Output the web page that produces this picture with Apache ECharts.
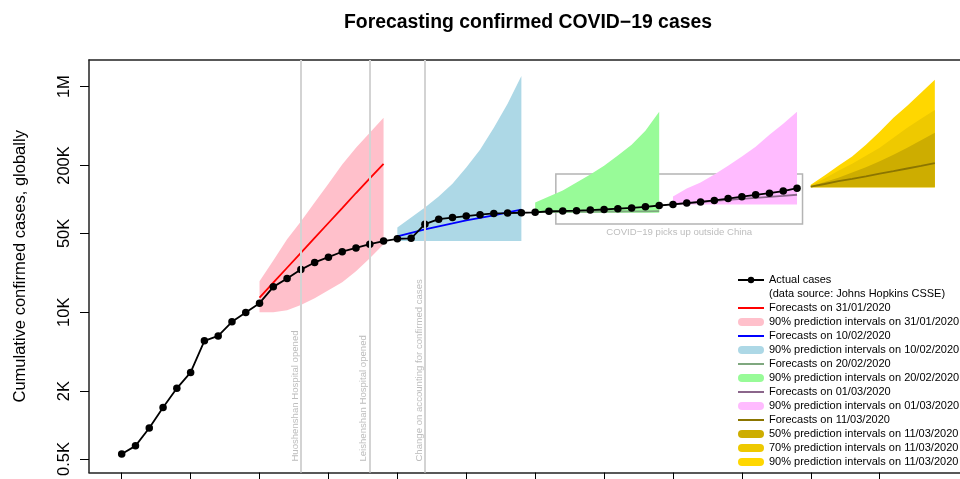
<!DOCTYPE html>
<html><head><meta charset="utf-8">
<script src="https://cdn.jsdelivr.net/npm/echarts@6/dist/echarts.min.js"></script>
<style>html,body{margin:0;padding:0;background:#fff}#c{width:960px;height:479px}</style>
</head><body><div id="c"></div>
<script>
// ---- data (x = days since 22/01/2020, y = cumulative confirmed cases) ----
const actualDays = [0,1,2,3,4,5,6,7,8,9,10,11,12,13,14,15,16,17,18,19,20,21,22,23,24,25,26,27,28,29,30,31,32,33,34,35,36,37,38,39,40,41,42,43,44,45,46,47,48,49];
const actualCases = [555,654,941,1434,2118,2927,5578,6166,8234,9927,
  12038,16787,19881,23892,27635,30794,34391,37120,40150,42762,
  44802,45221,60368,66885,69030,71224,73258,75136,75639,76197,
  76819,78572,78958,79561,80406,81388,82746,84112,86011,88369,
  90306,92840,95120,97886,101801,105847,109821,113590,118620,125875];

const days0131 = [10,11,12,13,14,15,16,17,18,19];
const fc0131 = [13500,18300,24800,33600,45600,61800,83800,114000,154000,207000];
const lo0131 = [10000,10000,10400,11600,13300,15700,18400,23100,30100,40000];
const hi0131 = [18800,28800,44300,63800,94000,138000,204000,287000,390000,530000];

const days1002 = [20,21,22,23,24,25,26,27,28,29];
const fc1002 = [47000,50500,54200,57600,61200,65100,68500,72100,76600,81400];
const lo1002 = [42800,42800,42800,42800,42800,42800,42800,42800,42800,42800];
const hi1002 = [56500,69200,84900,106000,138000,192000,276000,432000,705000,1240000];

const days2002 = [30,31,32,33,34,35,36,37,38,39];
const fc2002 = [77100,77300,77500,77600,77800,78000,78200,78300,78500,78700];
const lo2002 = [76200,76200,76200,76200,76200,76200,76200,76200,76200,76200];
const hi2002 = [94000,106000,120000,141000,166000,199000,245000,306000,407000,598000];

const days0103 = [40,41,42,43,44,45,46,47,48,49];
const fc0103 = [91000,92900,94900,96900,99000,101000,103200,105400,107600,110000];
const lo0103 = [90300,90300,90300,90300,90300,90300,90300,90300,90300,90300];
const hi0103 = [106000,125000,141000,166000,199000,240000,293000,374000,468000,598000];

const days1103 = [50,51,52,53,54,55,56,57,58,59];
const fc1103 = [130000,137000,145000,152000,160000,169000,178000,188000,198000,210000];
const lo1103 = [128000,128000,128000,128000,128000,128000,128000,128000,128000,128000];
const hi1103_50 = [130000,142500,156000,173000,193000,218000,249000,287000,335000,390000];
const hi1103_70 = [133000,153000,180000,207000,244000,287000,352000,432000,519000,622000];
const hi1103_90 = [135000,163000,199000,240000,306000,398000,530000,676000,881000,1150000];

const yTickCases = [500,2000,10000,50000,200000,1000000];
const yTickLabels = ['0.5K','2K','10K','50K','200K','1M'];
const xTickDays = [0,5,10,15,20,25,30,35,40,45,50,55];

const eventDays = [13,18,22];
const eventLabels = ['Huoshenshan Hospital opened','Leishenshan Hospital opened','Change on accounting for confirmed cases'];
const boxDays = [31.5,49.4];
const boxCases = [60500,168000];
const boxLabel = 'COVID\u221219 picks up outside China';

// ---- chart ----
const FONT = 'Liberation Sans';
const L = Math.log10;
const pairs = (d, v) => d.map((x, i) => [x, L(v[i])]);
const X_MIN = -2.373, X_MAX = 60.826;

function bandSeries(name, days, lower, upper, color) {
  return {
    type: 'custom', name, z: 1, silent: true, animation: false,
    itemStyle: { color },
    data: days.map((d, i) => [d, L(lower[i]), L(upper[i])]),
    encode: { x: 0, y: [1, 2] },
    renderItem(params, api) {
      if (params.dataIndex !== 0) return null;
      const pts = [];
      for (let i = 0; i < days.length; i++) pts.push(api.coord([days[i], L(upper[i])]));
      for (let i = days.length - 1; i >= 0; i--) pts.push(api.coord([days[i], L(lower[i])]));
      return { type: 'polygon', shape: { points: pts }, style: { fill: color } };
    }
  };
}
function fcSeries(name, days, vals, color) {
  return {
    type: 'line', name, z: 3, symbol: 'none', silent: true,
    lineStyle: { color, width: 1.8 }, itemStyle: { color },
    data: pairs(days, vals)
  };
}

const C = {
  pink: '#FFC0CB', red: '#FF0000', lblue: '#ADD8E6', blue: '#0000FF',
  pgreen: '#98FB98', green: '#7FA87F', plum: '#FFBBFF', purple: '#8B668B',
  gold: '#FFD700', gold2: '#EEC900', gold3: '#CDAD00', gold4: '#8B7500'
};

const N = {
  act: 'Actual cases', src: '(data source: Johns Hopkins CSSE)',
  f1: 'Forecasts on 31/01/2020', p1: '90% prediction intervals on 31/01/2020',
  f2: 'Forecasts on 10/02/2020', p2: '90% prediction intervals on 10/02/2020',
  f3: 'Forecasts on 20/02/2020', p3: '90% prediction intervals on 20/02/2020',
  f4: 'Forecasts on 01/03/2020', p4: '90% prediction intervals on 01/03/2020',
  f5: 'Forecasts on 11/03/2020',
  p50: '50% prediction intervals on 11/03/2020',
  p70: '70% prediction intervals on 11/03/2020',
  p90: '90% prediction intervals on 11/03/2020'
};
const capsule = 'path://M4,0L22,0A4,4,0,0,1,22,8L4,8A4,4,0,0,1,4,0Z';
const noDot = { itemStyle: { opacity: 0 } };
const AXIS_LINE = { show: true, onZero: false, lineStyle: { color: '#222', width: 1.5 } };

const chart = echarts.init(document.getElementById('c'), null, { renderer: 'canvas' });
chart.setOption({
  animation: false,
  backgroundColor: '#fff',
  title: {
    text: 'Forecasting confirmed COVID\u221219 cases',
    left: 523, top: 8, textAlign: 'center',
    textStyle: { fontFamily: FONT, fontSize: 19.4, fontWeight: 'bold', color: '#000' }
  },
  grid: { left: 89, top: 60, width: 871, height: 414, show: false },
  xAxis: [{
    type: 'value', min: X_MIN, max: X_MAX, position: 'bottom',
    axisLine: AXIS_LINE,
    axisTick: { show: true, customValues: xTickDays, length: 8, lineStyle: { color: '#000', width: 1 } },
    axisLabel: { show: false },
    splitLine: { show: false }
  }, {
    type: 'value', min: X_MIN, max: X_MAX, position: 'top',
    axisLine: AXIS_LINE, axisTick: { show: false }, axisLabel: { show: false }, splitLine: { show: false }
  }],
  yAxis: {
    type: 'value', min: 2.5786, max: 6.2359,
    name: 'Cumulative confirmed cases, globally',
    nameLocation: 'middle', nameGap: 60, nameRotate: 90,
    nameTextStyle: { fontFamily: FONT, fontSize: 16.5, color: '#000' },
    axisLine: AXIS_LINE,
    axisTick: { show: true, customValues: yTickCases.map(L), length: 9, lineStyle: { color: '#000', width: 1 } },
    axisLabel: {
      show: true, customValues: yTickCases.map(L), rotate: 90, margin: 16.5,
      fontFamily: FONT, fontSize: 16.5, color: '#000',
      formatter: v => { const i = yTickCases.findIndex(c => Math.abs(L(c) - v) < 1e-6); return i >= 0 ? yTickLabels[i] : ''; }
    },
    splitLine: { show: false }
  },
  legend: {
    orient: 'vertical', left: 737, top: 273, itemGap: 0, padding: 0,
    itemWidth: 26, itemHeight: 8, selectedMode: false,
    textStyle: { fontFamily: FONT, fontSize: 11, color: '#000', lineHeight: 14 },
    data: [
      { name: N.act },
      { name: N.src, icon: 'rect', itemStyle: { opacity: 0 } },
      Object.assign({ name: N.f1 }, noDot), { name: N.p1, icon: capsule },
      Object.assign({ name: N.f2 }, noDot), { name: N.p2, icon: capsule },
      Object.assign({ name: N.f3 }, noDot), { name: N.p3, icon: capsule },
      Object.assign({ name: N.f4 }, noDot), { name: N.p4, icon: capsule },
      Object.assign({ name: N.f5 }, noDot),
      { name: N.p50, icon: capsule }, { name: N.p70, icon: capsule }, { name: N.p90, icon: capsule }
    ]
  },
  series: [
    bandSeries(N.p1, days0131, lo0131, hi0131, C.pink),
    bandSeries(N.p2, days1002, lo1002, hi1002, C.lblue),
    bandSeries(N.p3, days2002, lo2002, hi2002, C.pgreen),
    bandSeries(N.p4, days0103, lo0103, hi0103, C.plum),
    bandSeries(N.p90, days1103, lo1103, hi1103_90, C.gold),
    bandSeries(N.p70, days1103, lo1103, hi1103_70, C.gold2),
    bandSeries(N.p50, days1103, lo1103, hi1103_50, C.gold3),
    {
      type: 'line', name: 'annotations', data: [], z: 2, silent: true,
      markLine: {
        symbol: 'none', silent: true, animation: false,
        lineStyle: { color: '#D3D3D3', width: 2, type: 'solid' },
        label: { show: true, position: 'insideStartTop', formatter: '{b}', color: '#BDBDBD', fontFamily: FONT, fontSize: 9.6, distance: [11, 1] },
        emphasis: { disabled: true },
        data: eventDays.map((d, i) => ({ xAxis: d, name: eventLabels[i] }))
      },
      markArea: {
        silent: true, animation: false,
        itemStyle: { color: 'rgba(0,0,0,0)', borderColor: '#B4B4B4', borderWidth: 1.5 },
        label: { show: true, position: 'bottom', distance: 3, color: '#BDBDBD', fontFamily: FONT, fontSize: 9.6 },
        emphasis: { disabled: true },
        data: [[{ name: boxLabel, xAxis: boxDays[0], yAxis: L(boxCases[1]) }, { xAxis: boxDays[1], yAxis: L(boxCases[0]) }]]
      }
    },
    { type: 'line', name: N.src, data: [], itemStyle: { color: 'rgba(0,0,0,0)' } },
    fcSeries(N.f1, days0131, fc0131, C.red),
    fcSeries(N.f2, days1002, fc1002, C.blue),
    fcSeries(N.f3, days2002, fc2002, C.green),
    fcSeries(N.f4, days0103, fc0103, C.purple),
    fcSeries(N.f5, days1103, fc1103, C.gold4),
    {
      type: 'line', name: N.act, z: 4, silent: true,
      symbol: 'circle', symbolSize: 7.5, showSymbol: true,
      lineStyle: { color: '#000', width: 1.8 }, itemStyle: { color: '#000' },
      data: pairs(actualDays, actualCases)
    }
  ]
});
</script>
</body></html>
